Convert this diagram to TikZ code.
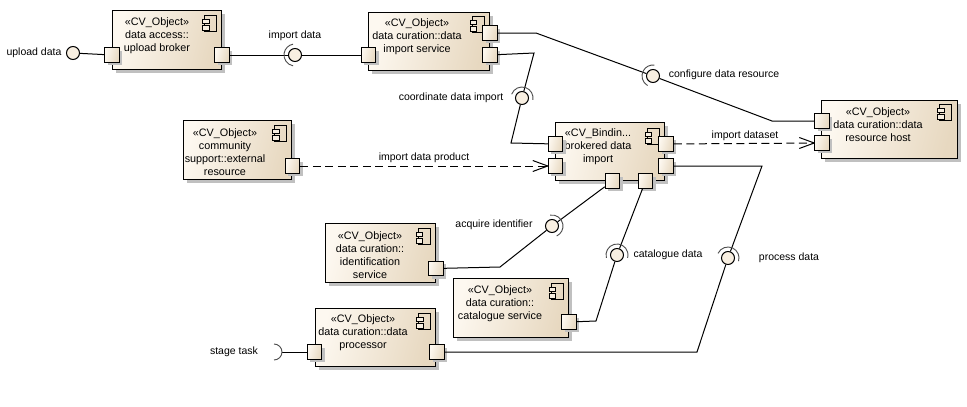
\documentclass[tikz,border=0pt]{standalone}
\usepackage{fontspec}
\setmainfont{Liberation Sans}
\usetikzlibrary{shadows}
\definecolor{paleface}{HTML}{FDF8F0}
\definecolor{midface}{HTML}{F8EFE1}
\definecolor{tanface}{HTML}{E7D8C0}
\definecolor{shadowgray}{HTML}{C0C0C0}
\tikzset{
	compicon/.pic = {
		\draw[line width=0.8pt] (-12,0) rectangle (0,16);
		\draw[fill=midface, line width=0.8pt] (-14,4) rectangle (-7.5,8.5);
		\draw[fill=midface, line width=0.8pt] (-14,10.5) rectangle (-7.5,15);
	}
}
\begin{document}
\begin{tikzpicture}[
				x = 1pt, y = -1pt,
				component/.style = {rectangle, draw, line width = 1pt, anchor = north west, left color = paleface, middle color = midface, right color = tanface, shading angle = 75, drop shadow = {shadow xshift = 3.5pt, shadow yshift = -3.5pt, fill = shadowgray, opacity = 1}},
				port/.style = {rectangle, draw, line width = 1pt, minimum size = 14.5pt, inner sep = 0pt, left color = paleface, middle color = midface, right color = tanface, shading angle = 75, drop shadow = {shadow xshift = 3pt, shadow yshift = -3pt, fill = shadowgray, opacity = 1}},
				boxtext/.style = {align = center, inner sep = 0pt, font = \fontsize{10.8}{13}\selectfont},
				label/.style = {inner sep = 0pt, font = \fontsize{10.5}{13}\selectfont},
				ball/.style = {circle, draw, line width = 1pt, fill = midface, minimum size = 13pt, inner sep = 0pt},
				link/.style = {line width = 1pt},
				socket/.style = {line width = 0.9pt, draw = black!70},
				depends/.style = {line width = 1pt, dash pattern = on 8pt off 4.5pt},
				openhead/.style = {line width = 1pt},
			]
			\useasboundingbox (0,0) rectangle (967,407);

			% boxes
			\node[component, minimum width = 109pt, minimum height = 59pt](Broker) at (112,10){};
			\node[component, minimum width = 121pt, minimum height = 58pt](Service) at (368,12){};
			\node[component, minimum width = 109pt, minimum height = 58pt](Binding) at (555,122){};
			\node[component, minimum width = 136pt, minimum height = 58pt](Host) at (821,100){};
			\node[component, minimum width = 108pt, minimum height = 59pt](External) at (183,120){};
			\node[component, minimum width = 110pt, minimum height = 59pt](Identify) at (325,223){};
			\node[component, minimum width = 115pt, minimum height = 59pt](Catalogue) at (453,278){};
			\node[component, minimum width = 120pt, minimum height = 58pt](Processor) at (315,308){};

			\pic at (216.5,15) {compicon};
			\pic at (484,16) {compicon};
			\pic at (659,128) {compicon};
			\pic at (951.5,104) {compicon};
			\pic at (286.5,125) {compicon};
			\pic at (430,228) {compicon};
			\pic at (563,283) {compicon};
			\pic at (430.5,313) {compicon};

			\node[boxtext](BrokerText) at (157,36){«CV\_Object»\\data access::\\upload broker};
			\node[boxtext](ServiceText) at (417,37){«CV\_Object»\\data curation::data\\import service};
			\node[boxtext](BindingText) at (598,147){«CV\_Bindin...\\brokered data\\import};
			\node[boxtext](HostText) at (878,125){«CV\_Object»\\data curation::data\\resource host};
			\node[boxtext](ExternalText) at (225,152){«CV\_Object»\\community\\support::external\\resource};
			\node[boxtext](IdentifyText) at (370,255){«CV\_Object»\\data curation::\\identification\\service};
			\node[boxtext](CatalogueText) at (500,304){«CV\_Object»\\data curation::\\catalogue service};
			\node[boxtext](ProcessorText) at (363,333){«CV\_Object»\\data curation::data\\processor};

			% ports
			\node[port](BrokerIn) at (112,55){};
			\node[port](BrokerOut) at (222,55){};
			\node[port](ServiceIn) at (368.5,55){};
			\node[port](ServiceConf) at (490,33){};
			\node[port](ServiceCoord) at (490,55){};
			\node[port](BindingCoord) at (555.5,144){};
			\node[port](BindingProduct) at (555.5,166){};
			\node[port](BindingDataset) at (666,144){};
			\node[port](BindingProcess) at (666,166){};
			\node[port](BindingAcquire) at (612.5,181){};
			\node[port](BindingCatalogue) at (645.5,181){};
			\node[port](HostConf) at (822,121){};
			\node[port](HostDataset) at (822,143){};
			\node[port](ExternalOut) at (292.5,166){};
			\node[port](IdentifyOut) at (436,268.5){};
			\node[port](CatalogueOut) at (569,322){};
			\node[port](ProcessorIn) at (314.5,352){};
			\node[port](ProcessorOut) at (437,352){};

			% bends
			\coordinate(ConfA) at (536,33);
			\coordinate(ConfB) at (772,121);
			\coordinate(CoordA) at (534,53);
			\coordinate(CoordB) at (511,143);
			\coordinate(IdentBend) at (500,267);
			\coordinate(CatBend) at (596,321);
			\coordinate(ProcA) at (762,166);
			\coordinate(ProcB) at (697,352);

			% interfaces
			\node[ball](UploadBall) at (73,53){};
			\node[ball](ImportBall) at (295,55){};
			\node[ball](ConfBall) at (653,76){};
			\node[ball](CoordBall) at (522,98){};
			\node[ball](AcquireBall) at (552,226){};
			\node[ball](CatBall) at (617,255){};
			\node[ball](ProcBall) at (728,258){};
			\coordinate(StageEnd) at (282,352);

			% connectors
			\draw[link](UploadBall)--(BrokerIn);
			\draw[link](BrokerOut)--(ImportBall)--(ServiceIn);
			\draw[link](ServiceConf)--(ConfA)--(ConfBall)--(ConfB)--(HostConf);
			\draw[link](ServiceCoord)--(CoordA)--(CoordBall)--(CoordB)--(BindingCoord);
			\draw[link](IdentifyOut)--(IdentBend)--(AcquireBall)--(BindingAcquire);
			\draw[link](CatalogueOut)--(CatBend)--(CatBall)--(BindingCatalogue);
			\draw[link](ProcessorOut)--(ProcB)--(ProcBall)--(ProcA)--(BindingProcess);
			\draw[link](StageEnd)--(ProcessorIn);
			\draw[depends](ExternalOut)--(BindingProduct);
			\draw[depends](BindingDataset)--(HostDataset);
			\draw[openhead](BindingProduct.west)--++(-15,-5.5);
			\draw[openhead](BindingProduct.west)--++(-15,5.5);
			\draw[openhead](HostDataset.west)--++(-15,-5.5);
			\draw[openhead](HostDataset.west)--++(-15,5.5);

			% sockets
			\draw[socket](ImportBall.center)++(100:11)arc[start angle=100, end angle=260, radius=11];
			\draw[socket](ConfBall.center)++(120:11)arc[start angle=120, end angle=277, radius=11];
			\draw[socket](CoordBall.center)++(200:11)arc[start angle=200, end angle=370, radius=11];
			\draw[socket](AcquireBall.center)++(-100:11)arc[start angle=-100, end angle=65, radius=11];
			\draw[socket](CatBall.center)++(165:11)arc[start angle=165, end angle=375, radius=11];
			\draw[socket](ProcBall.center)++(205:11)arc[start angle=205, end angle=377, radius=11];
			\draw[socket](StageEnd)arc[start angle=0, end angle=-90, radius=8];
			\draw[socket](StageEnd)arc[start angle=0, end angle=90, radius=8];

			% labels
			\node[label](UploadLabel) at (34,53){upload data};
			\node[label](ImportLabel) at (295,36){import data};
			\node[label](CoordLabel) at (451,98){coordinate data import};
			\node[label](ConfLabel) at (724,75){configure data resource};
			\node[label](DatasetLabel) at (745,136){import dataset};
			\node[label](ProductLabel) at (424,158){import data product};
			\node[label](AcquireLabel) at (494,225){acquire identifier};
			\node[label](CatLabel) at (668,255){catalogue data};
			\node[label](ProcLabel) at (789,258){process data};
			\node[label](StageLabel) at (234,352){stage task};
		\end{tikzpicture}
\end{document}
